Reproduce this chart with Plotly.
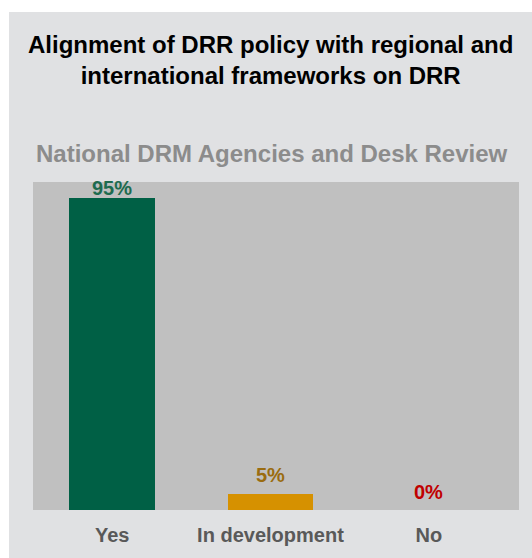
import plotly.graph_objects as go

categories = ["Yes", "In development", "No"]
values = [95, 5, 0]
bar_colors = ["#006045", "#d69100", "#c00000"]
label_colors = ["#1d6b4f", "#9a6c10", "#c00000"]
label_shift = [-3, 6, 5]

FONT = "Liberation Sans, Arial"
W, H = 532, 558
L, R, T, B = 33, 13, 182, 48
ph = H - T - B
pw = W - L - R

fig = go.Figure()
fig.add_trace(go.Bar(
    x=list(range(len(categories))),
    y=values,
    marker=dict(color=bar_colors, line=dict(width=0)),
    width=0.54,
    hoverinfo="skip",
))

annotations = []
for i, (v, c, s) in enumerate(zip(values, label_colors, label_shift)):
    annotations.append(dict(
        x=i, y=v, xref="x", yref="y", text=f"{v}%", showarrow=False,
        yanchor="bottom", yshift=s,
        font=dict(family=FONT, size=20, color=c, weight="bold"),
    ))

def py(pix):
    return (H - B - pix) / ph

def px(pix):
    return (pix - L) / pw

annotations += [
    dict(x=px(270), y=py(60), xref="paper", yref="paper", showarrow=False,
         text="Alignment of DRR policy with regional and<br>international frameworks on DRR",
         font=dict(family=FONT, size=24, color="#000000", weight="bold"),
         align="center", xanchor="center", yanchor="middle"),
    dict(x=px(272), y=py(153), xref="paper", yref="paper", showarrow=False,
         text="National DRM Agencies and Desk Review",
         font=dict(family=FONT, size=24, color="#8c8c8c", weight="bold"),
         xanchor="center", yanchor="middle"),
]

fig.update_layout(
    width=W, height=H,
    margin=dict(l=L, r=R, t=T, b=B, pad=0),
    paper_bgcolor="#ffffff",
    plot_bgcolor="#c0c0c0",
    showlegend=False,
    bargap=0,
    annotations=annotations,
    shapes=[
        dict(type="rect", xref="paper", yref="paper", layer="below",
             x0=px(9), x1=px(W + 5), y0=py(H + 5), y1=py(12),
             fillcolor="#e0e1e3", line=dict(width=0)),
        dict(type="rect", xref="paper", yref="paper", layer="below",
             x0=0, x1=1, y0=0, y1=1,
             fillcolor="#c0c0c0", line=dict(width=0)),
    ],
    xaxis=dict(
        tickmode="array", tickvals=list(range(len(categories))), ticktext=categories,
        range=[-0.5, 2.57], showgrid=False, zeroline=False, showline=False,
        ticks="", ticklen=0, ticklabelstandoff=11,
        tickfont=dict(family=FONT, size=20, color="#595959", weight="bold"),
    ),
    yaxis=dict(range=[0, 100], showgrid=False, zeroline=False, showticklabels=False,
               showline=False, ticks=""),
)

fig.write_html("out.html")
